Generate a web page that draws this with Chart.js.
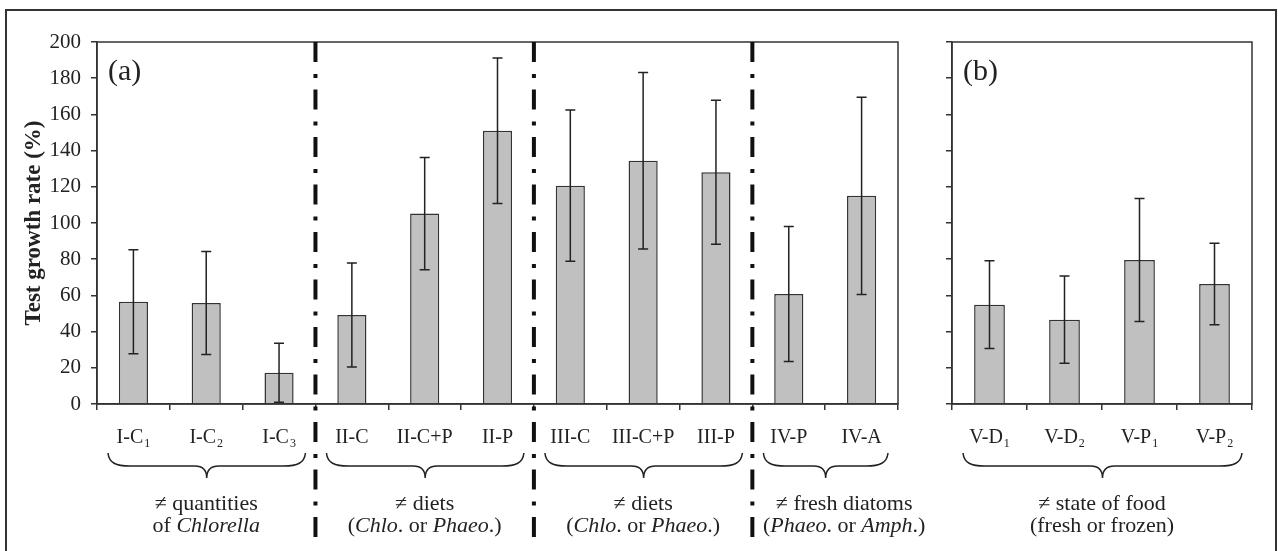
<!DOCTYPE html>
<html>
<head>
<meta charset="utf-8">
<title>Test growth rate</title>
<script src="https://cdn.jsdelivr.net/npm/chart.js@4.4.1/dist/chart.umd.min.js"></script>
<style>
  html, body { margin: 0; padding: 0; background: #fff; overflow: hidden; }
  #wrap { position: relative; width: 1278px; height: 551px; }
  #wrap canvas { position: absolute; left: 0; top: 0; }
  #frame { position: absolute; left: 5px; top: 9px; width: 1268px; height: 560px;
           border: 2px solid #333; border-bottom: none; }
</style>
</head>
<body>
<div id="wrap">
  <div id="frame"></div>
  <canvas id="chartA" width="1278" height="551"></canvas>
  <canvas id="chartB" width="1278" height="551"></canvas>
</div>
<script>
// ====================================================================
// DATA
// ====================================================================

// panel (a)
const labelsA = ['I-C', 'I-C', 'I-C', 'II-C', 'II-C+P', 'II-P', 'III-C', 'III-C+P', 'III-P', 'IV-P', 'IV-A'];
const subsA   = ['1', '2', '3', '', '', '', '', '', '', '', ''];
const meansA  = [56.5, 55.8, 17.3, 49.2, 105.2, 151, 120.6, 134.4, 128, 60.8, 115];
const errA    = [28.7, 28.4, 16.3, 28.7, 31, 40.2, 41.8, 48.8, 39.8, 37.3, 54.5];

// panel (b)
const labelsB = ['V-D', 'V-D', 'V-P', 'V-P'];
const subsB   = ['1', '2', '1', '2'];
const meansB  = [54.9, 46.6, 79.6, 66.3];
const errB    = [24.3, 24.1, 34, 22.5];

// y axis
const yMin = 0;
const yMax = 200;
const yStep = 20;

// groups under the x axis: [from, to, lines, caption shift], each line a list of [text, italic]
const groupsA = [
  [0, 2, [[['≠ quantities', false]], [['of ', false], ['Chlorella', true]]], 0],
  [3, 5, [[['≠ diets', false]], [['(', false], ['Chlo', true], ['. or ', false], ['Phaeo', true], ['.)', false]]], 0],
  [6, 8, [[['≠ diets', false]], [['(', false], ['Chlo', true], ['. or ', false], ['Phaeo', true], ['.)', false]]], 0],
  [9, 10, [[['≠ fresh diatoms', false]], [['(', false], ['Phaeo', true], ['. or ', false], ['Amph', true], ['.)', false]]], 19]
];
const groupsB = [
  [0, 3, [[['≠ state of food', false]], [['(fresh or frozen)', false]]], 0]
];
const dividersA = [2, 5, 8];   // dash-dot line after these categories

const FONT = '"Liberation Serif", "Times New Roman", serif';
const INK = '#222';

Chart.defaults.font.family = FONT;
Chart.defaults.font.size = 20;
Chart.defaults.color = INK;

// ====================================================================
// DRAWING HELPERS
// ====================================================================

function drawRich(ctx, parts, cx, baseline, size) {
  let total = 0;
  parts.forEach(p => {
    ctx.font = (p[1] ? 'italic ' : '') + size + 'px ' + FONT;
    total += ctx.measureText(p[0]).width;
  });
  let x = cx - total / 2;
  ctx.textAlign = 'left';
  parts.forEach(p => {
    ctx.font = (p[1] ? 'italic ' : '') + size + 'px ' + FONT;
    ctx.fillText(p[0], x, baseline);
    x += ctx.measureText(p[0]).width;
  });
}

function drawBrace(ctx, x1, x2, y0) {
  const yMid = y0 + 13, yTip = y0 + 25, xm = (x1 + x2) / 2;
  ctx.beginPath();
  ctx.moveTo(x1, y0);
  ctx.bezierCurveTo(x1 + 1, y0 + 10, x1 + 8, yMid, x1 + 22, yMid);
  ctx.lineTo(xm - 12, yMid);
  ctx.bezierCurveTo(xm - 4, yMid, xm, yMid + 4, xm, yTip);
  ctx.bezierCurveTo(xm, yMid + 4, xm + 4, yMid, xm + 12, yMid);
  ctx.lineTo(x2 - 22, yMid);
  ctx.bezierCurveTo(x2 - 8, yMid, x2 - 1, y0 + 10, x2, y0);
  ctx.stroke();
}

const decorPlugin = {
  id: 'decor',
  afterDraw(chart, args, opts) {
    const ctx = chart.ctx;
    const area = chart.chartArea;
    const xs = chart.scales.x;
    const ys = chart.scales.y;
    const half = (xs.getPixelForValue(1) - xs.getPixelForValue(0)) / 2;

    ctx.save();

    // box round the plot area
    ctx.strokeStyle = '#333';
    ctx.lineWidth = 1.5;
    ctx.strokeRect(area.left, area.top, area.right - area.left, area.bottom - area.top);

    // error bars
    const data = chart.data.datasets[0].data;
    ctx.strokeStyle = INK;
    ctx.lineWidth = 1.5;
    chart.getDatasetMeta(0).data.forEach((bar, i) => {
      const hi = ys.getPixelForValue(data[i] + opts.errors[i]);
      const lo = ys.getPixelForValue(Math.max(0, data[i] - opts.errors[i]));
      ctx.beginPath();
      ctx.moveTo(bar.x, hi); ctx.lineTo(bar.x, lo);
      ctx.moveTo(bar.x - 5, hi); ctx.lineTo(bar.x + 5, hi);
      ctx.moveTo(bar.x - 5, lo); ctx.lineTo(bar.x + 5, lo);
      ctx.stroke();
    });

    // category labels with subscripts
    ctx.fillStyle = INK;
    ctx.textBaseline = 'alphabetic';
    chart.data.labels.forEach((lab, i) => {
      const cx = xs.getPixelForValue(i);
      ctx.font = '20px ' + FONT;
      const w1 = ctx.measureText(opts.main[i]).width;
      ctx.font = '12px ' + FONT;
      const w2 = opts.subs[i] ? ctx.measureText(opts.subs[i]).width + 1 : 0;
      const x0 = cx - (w1 + w2) / 2;
      ctx.textAlign = 'left';
      ctx.font = '20px ' + FONT;
      ctx.fillText(opts.main[i], x0, 443);
      if (opts.subs[i]) {
        ctx.font = '12px ' + FONT;
        ctx.fillText(opts.subs[i], x0 + w1 + 1, 447);
      }
    });

    // braces and group captions
    ctx.lineWidth = 1.5;
    opts.groups.forEach(g => {
      const left = xs.getPixelForValue(g[0]) - half;
      const right = xs.getPixelForValue(g[1]) + half;
      drawBrace(ctx, left + 11, right - 10, 453);
      const cx = (left + right) / 2 + g[3];
      g[2].forEach((line, k) => drawRich(ctx, line, cx, 510 + k * 22, 22));
    });

    // panel letter
    ctx.font = '30px ' + FONT;
    ctx.textAlign = 'left';
    ctx.fillText(opts.panel, area.left + 11, 80);

    // y axis title
    if (opts.yTitle) {
      ctx.save();
      ctx.translate(34, (area.top + area.bottom) / 2);
      ctx.rotate(-Math.PI / 2);
      ctx.font = 'bold 23px ' + FONT;
      ctx.textAlign = 'center';
      ctx.textBaseline = 'middle';
      ctx.fillText(opts.yTitle, 0, 0);
      ctx.restore();
    }

    // dash-dot dividers between the groups
    ctx.strokeStyle = '#111';
    ctx.lineWidth = 4;
    ctx.setLineDash([20, 12, 4, 11.5]);
    (opts.dividers || []).forEach(i => {
      const x = xs.getPixelForValue(i) + half;
      ctx.beginPath();
      ctx.moveTo(x, area.top);
      ctx.lineTo(x, 537);
      ctx.stroke();
    });

    ctx.restore();
  }
};

// ====================================================================
// CHARTS
// ====================================================================

function makeChart(id, main, subs, means, errors, groups, dividers, panel, yTitle, pad, yWidth, showYLabels, barPct) {
  const canvas = document.getElementById(id);
  return new Chart(canvas.getContext('2d'), {
    type: 'bar',
    data: {
      labels: main.map((m, i) => m + subs[i]),
      datasets: [{
        data: means,
        backgroundColor: '#c0c0c0',
        borderColor: '#333',
        borderWidth: 1.5,
        barPercentage: barPct,
        categoryPercentage: 1
      }]
    },
    options: {
      responsive: false,
      animation: false,
      layout: { padding: pad },
      plugins: {
        legend: { display: false },
        tooltip: { enabled: false },
        decor: { main, subs, errors, groups, dividers, panel, yTitle }
      },
      scales: {
        x: {
          offset: true,
          ticks: { display: false },
          grid: { display: true, offset: true, drawOnChartArea: false, drawTicks: true,
                  tickLength: 6, color: '#333', lineWidth: 1.5 },
          border: { display: true, color: '#333', width: 1.5 },
          afterFit: s => { s.height = 147; }
        },
        y: {
          min: yMin,
          max: yMax,
          ticks: { stepSize: yStep, display: showYLabels, padding: 10,
                   font: { size: 21, family: FONT }, color: INK },
          grid: { display: true, drawOnChartArea: false, drawTicks: true,
                  tickLength: 6, color: '#333', lineWidth: 1.5 },
          border: { display: true, color: '#333', width: 1.5 },
          afterFit: s => { s.width = yWidth; }
        }
      }
    },
    plugins: [decorPlugin]
  });
}

makeChart('chartA', labelsA, subsA, meansA, errA, groupsA, dividersA, '(a)',
          'Test growth rate (%)', { left: 0, top: 42, right: 380, bottom: 0 }, 97, true, 0.4);
makeChart('chartB', labelsB, subsB, meansB, errB, groupsB, [], '(b)',
          null, { left: 942, top: 42, right: 26, bottom: 0 }, 10, false, 0.41);
</script>
</body>
</html>
